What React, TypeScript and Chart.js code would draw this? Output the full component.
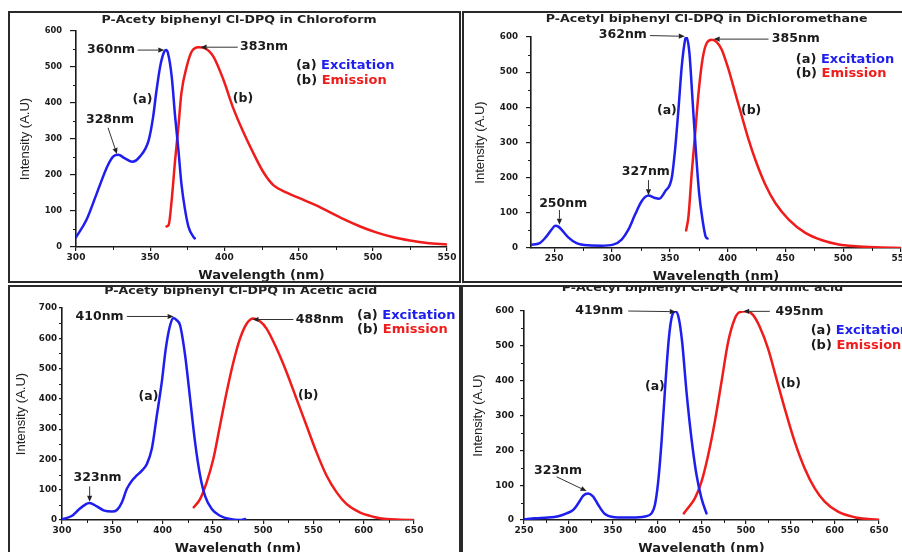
import React, { useEffect, useRef } from 'react';
import { Chart, registerables } from 'chart.js';

Chart.register(...registerables);

const BLUE = 'rgb(30,30,238)';
const RED = 'rgb(240,28,28)';
const INK = '#1b1b1b';
const FONT = "'DejaVu Sans', 'Liberation Sans', Arial, sans-serif";
const YFONT = "'Liberation Sans', Arial, sans-serif";

// ---------- Chloroform ----------
const chlExWl = [300, 307, 314, 321, 325, 328.5, 333, 338, 343, 349, 352, 354, 356.7, 359, 360.7, 362, 364.5, 366.8, 369, 371, 373.5, 375.8, 379, 380];
const chlExI = [27, 75, 149, 223, 251, 256, 246, 237, 251, 297, 362, 427, 501, 538, 547, 538, 473, 362, 270, 177, 103, 56, 29, 24];
const chlEmWl = [361, 362.5, 364.5, 366.8, 369, 371, 374.6, 378, 382.5, 387, 392.6, 399.4, 406, 412.9, 419.6, 426.4, 433, 442, 451, 460, 469, 480, 491.5, 502.8, 514, 525, 536.5, 550];
const chlEmI = [57, 62, 131, 242, 334, 427, 501, 543, 555, 552, 529, 464, 385, 318, 260, 207, 172, 151, 135, 119, 101, 78, 57, 40, 27, 18, 11, 7];
const chlXTicks = [300, 350, 400, 450, 500, 550];
const chlYTicks = [0, 100, 200, 300, 400, 500, 600];

// ---------- Dichloromethane ----------
const dcmExWl = [230, 237.6, 243.4, 247.7, 251, 254, 256.4, 262, 269.4, 279.5, 291, 301, 308.4, 314.2, 320, 325.7, 331.5, 337.3, 340.8, 346, 351.7, 354.6, 357.5, 360.4, 363.3, 364.5, 367, 369.7, 372.5, 375.4, 378.3, 381.2, 382.7];
const dcmExI = [9.5, 14, 33, 52, 63, 60, 52, 31, 14, 7.6, 6.6, 9.5, 24, 52, 95, 133, 149, 142, 140, 161, 199, 280, 393, 517, 592, 600, 555, 422, 280, 156, 81, 31, 27];
const dcmEmWl = [364.2, 366.2, 369, 372, 374.9, 378.3, 382, 386.4, 390.8, 395, 400.9, 406.6, 412.4, 418.2, 424, 432.7, 441.3, 452.9, 467.3, 481.8, 496.2, 510.7, 528, 549.7];
const dcmEmI = [50, 90, 213, 327, 441, 536, 583, 592, 585, 564, 507, 441, 374, 308, 251, 180, 128, 81, 43, 22, 10, 5, 2, 0];
const dcmXTicks = [250, 300, 350, 400, 450, 500, 550];
const dcmYTicks = [0, 100, 200, 300, 400, 500, 600];

// ---------- Acetic acid ----------
const aceExWl = [300, 303, 310, 316.5, 323.2, 327, 334.7, 341.3, 349.6, 354.6, 359.5, 364.5, 369.5, 374.4, 379.4, 384.4, 389.3, 394.3, 399.2, 403.2, 407.5, 411, 414, 417.4, 422.4, 427.4, 432.3, 437.3, 442.2, 448.9, 457.1, 467, 477, 482];
const aceExI = [3, 5, 14, 34, 51, 56, 45, 32, 28, 33, 58, 103, 130, 147, 163, 185, 235, 345, 455, 566, 643, 667, 660, 643, 544, 400, 257, 147, 80, 36, 14, 3, 0, 3];
const aceEmWl = [431, 437.3, 443.9, 450.5, 457.1, 463.7, 470.4, 477, 483.6, 490.2, 496.8, 503.4, 513.4, 523.3, 533.2, 543.1, 553, 563, 572.9, 582.8, 596, 609.3, 622.5, 635.8, 650];
const aceEmI = [42, 69, 125, 202, 312, 422, 521, 599, 648, 665, 656, 632, 566, 488, 400, 312, 224, 147, 92, 53, 25, 11, 3, 1, 0];
const aceXTicks = [300, 350, 400, 450, 500, 550, 600, 650];
const aceYTicks = [0, 100, 200, 300, 400, 500, 600, 700];

// ---------- Formic acid ----------
const forExWl = [250, 262.4, 277.4, 288.6, 298, 305.5, 311.2, 316.8, 322.4, 328, 333.7, 341.2, 352.4, 371.2, 386.2, 393.7, 397.5, 401.2, 405, 408.7, 413.2, 417, 420.7, 424.5, 428.2, 433.1, 438.7, 444.4, 450, 455.6];
const forExI = [2, 5, 7, 11, 19, 29, 48, 70, 76, 67, 43, 17, 8, 7, 10, 19, 43, 110, 225, 368, 521, 588, 599, 578, 511, 368, 234, 129, 62, 19];
const forEmWl = [430.1, 435, 442.5, 450, 457.5, 465, 472.5, 480, 487.5, 493.2, 500.7, 508.2, 515.7, 525, 534.4, 543.8, 555, 566.3, 577.6, 588.8, 603.8, 622.6, 637.6, 650];
const forEmI = [19, 35, 62, 110, 186, 282, 396, 511, 578, 597, 599, 588, 554, 492, 406, 320, 225, 148, 91, 53, 24, 8, 3, 1];
const forXTicks = [250, 300, 350, 400, 450, 500, 550, 600, 650];
const forYTicks = [0, 100, 200, 300, 400, 500, 600];

type Note = { text: string; x: number; y: number; align: 'left' | 'right' | 'center'; arrow?: number[] };

// annotations anchored in data coordinates (wavelength, intensity)
const chlNotes: Note[] = [
  { text: '360nm', x: 339.8, y: 547, align: 'right', arrow: [341.5, 547, 359.5, 547] },
  { text: '383nm', x: 410.5, y: 555, align: 'left', arrow: [409, 555, 384, 555] },
  { text: '328nm', x: 322.9, y: 353, align: 'center', arrow: [321.6, 331, 327.6, 258] },
  { text: '(a)', x: 344.8, y: 408, align: 'center' },
  { text: '(b)', x: 412.5, y: 411, align: 'center' },
];
const dcmNotes: Note[] = [
  { text: '362nm', x: 330.2, y: 606, align: 'right', arrow: [333, 604, 363, 602] },
  { text: '385nm', x: 438.3, y: 594, align: 'left', arrow: [435.4, 594, 388, 594] },
  { text: '327nm', x: 329.3, y: 217, align: 'center', arrow: [331.6, 193, 331.6, 150] },
  { text: '250nm', x: 257.8, y: 127, align: 'center', arrow: [254.6, 108, 254.6, 66] },
  { text: '(a)', x: 347.5, y: 390, align: 'center' },
  { text: '(b)', x: 420.4, y: 390, align: 'center' },
];
const aceNotes: Note[] = [
  { text: '410nm', x: 361.2, y: 672, align: 'right', arrow: [364.5, 672, 411, 672] },
  { text: '488nm', x: 532.5, y: 662, align: 'left', arrow: [530, 662, 489.5, 662] },
  { text: '323nm', x: 335.4, y: 138, align: 'center', arrow: [327.5, 111, 327.5, 60] },
  { text: '(a)', x: 386, y: 406, align: 'center' },
  { text: '(b)', x: 544.8, y: 409, align: 'center' },
];
const forNotes: Note[] = [
  { text: '419nm', x: 361.8, y: 602, align: 'right', arrow: [367.4, 600, 421, 598] },
  { text: '495nm', x: 533.3, y: 599, align: 'left', arrow: [527, 599, 497, 599] },
  { text: '323nm', x: 288.3, y: 140, align: 'center', arrow: [286.8, 124, 320.5, 83] },
  { text: '(a)', x: 397.5, y: 382, align: 'center' },
  { text: '(b)', x: 550.6, y: 392, align: 'center' },
];

type Panel = {
  title: string;
  titlePos: number[];
  frame: { left: number; top: number; width: number; height: number };
  canvas: { left: number; top: number; width: number; height: number };
  area: { left: number; right: number; top: number; bottom: number };
  xMin: number; xMax: number; xTicks: number[];
  yMax: number; yTicks: number[];
  exWl: number[]; exI: number[]; emWl: number[]; emI: number[];
  yTickLen: number; yTickPad: number; yFont: number;
  yTitleCenter: number; xTitlePad: number;
  notes: Note[];
  legend: number[];
};

const panels: Panel[] = [
  {
    title: 'P-Acety biphenyl Cl-DPQ in Chloroform', titlePos: [239, 20],
    frame: { left: 8, top: 11, width: 453, height: 272 },
    canvas: { left: 11, top: 14, width: 447, height: 267 },
    area: { left: 76, right: 447, top: 31, bottom: 247 },
    xMin: 300, xMax: 550, xTicks: chlXTicks, yMax: 600, yTicks: chlYTicks,
    exWl: chlExWl, exI: chlExI, emWl: chlEmWl, emI: chlEmI,
    yTickLen: 6, yTickPad: 8, yFont: 8.3, yTitleCenter: 25, xTitlePad: -1.5,
    notes: chlNotes, legend: [448.2, 503, 461],
  },
  {
    title: 'P-Acetyl biphenyl Cl-DPQ in Dichloromethane', titlePos: [706.7, 19],
    frame: { left: 462, top: 11, width: 460, height: 272 },
    canvas: { left: 465, top: 14, width: 437, height: 267 },
    area: { left: 531, right: 901, top: 37, bottom: 248 },
    xMin: 230, xMax: 550, xTicks: dcmXTicks, yMax: 600, yTicks: dcmYTicks,
    exWl: dcmExWl, exI: dcmExI, emWl: dcmEmWl, emI: dcmEmI,
    yTickLen: 5, yTickPad: 8, yFont: 8.7, yTitleCenter: 480, xTitlePad: -2.5,
    notes: dcmNotes, legend: [459, 535, 495],
  },
  {
    title: 'P-Acety biphenyl Cl-DPQ in Acetic acid', titlePos: [240.8, 291.3],
    frame: { left: 8, top: 285, width: 453, height: 290 },
    canvas: { left: 11, top: 287, width: 447, height: 265 },
    area: { left: 62, right: 414, top: 308, bottom: 520 },
    xMin: 300, xMax: 650, xTicks: aceXTicks, yMax: 700, yTicks: aceYTicks,
    exWl: aceExWl, exI: aceExI, emWl: aceEmWl, emI: aceEmI,
    yTickLen: 3, yTickPad: 2, yFont: 8.7, yTitleCenter: 21, xTitlePad: -3.2,
    notes: aceNotes, legend: [593.4, 676, 628],
  },
  {
    title: 'P-Acetyl biphenyl Cl-DPQ in Formic acid', titlePos: [702.5, 288.7],
    frame: { left: 461, top: 285, width: 460, height: 290 },
    canvas: { left: 464, top: 287, width: 438, height: 265 },
    area: { left: 524, right: 879, top: 311, bottom: 520 },
    xMin: 250, xMax: 650, xTicks: forXTicks, yMax: 600, yTicks: forYTicks,
    exWl: forExWl, exI: forExI, emWl: forEmWl, emI: forEmI,
    yTickLen: 4, yTickPad: 6, yFont: 9, yTitleCenter: 478, xTitlePad: -3.2,
    notes: forNotes, legend: [573, 543, 502],
  },
];

function drawText(ctx: CanvasRenderingContext2D, text: string, x: number, y: number, size: number, color: string, align: CanvasTextAlign, sx = 1) {
  ctx.save();
  ctx.font = `bold ${size}px ${FONT}`;
  ctx.fillStyle = color;
  ctx.textBaseline = 'middle';
  ctx.textAlign = align;
  ctx.translate(x, y);
  ctx.scale(sx, 1);
  ctx.fillText(text, 0, 0);
  ctx.restore();
}

function drawArrow(ctx: CanvasRenderingContext2D, x1: number, y1: number, x2: number, y2: number) {
  const ang = Math.atan2(y2 - y1, x2 - x1);
  const head = 6;
  const hw = 2.6;
  const bx = x2 - head * Math.cos(ang);
  const by = y2 - head * Math.sin(ang);
  ctx.save();
  ctx.strokeStyle = '#333';
  ctx.fillStyle = '#222';
  ctx.lineWidth = 1;
  ctx.beginPath();
  ctx.moveTo(x1, y1);
  ctx.lineTo(bx, by);
  ctx.stroke();
  ctx.beginPath();
  ctx.moveTo(x2, y2);
  ctx.lineTo(bx + hw * Math.sin(ang), by - hw * Math.cos(ang));
  ctx.lineTo(bx - hw * Math.sin(ang), by + hw * Math.cos(ang));
  ctx.closePath();
  ctx.fill();
  ctx.restore();
}

function midpoints(arr: number[]) {
  return arr.slice(0, -1).map((v, i) => (v + arr[i + 1]) / 2);
}

function makeNotesPlugin(p: Panel) {
  return {
    id: 'spectrumNotes',
    afterDraw(chart: any) {
      const ctx: CanvasRenderingContext2D = chart.ctx;
      const xs = chart.scales.x;
      const ys = chart.scales.y;
      const a = chart.chartArea;
      const ox = p.canvas.left;
      const oy = p.canvas.top;
      ctx.save();
      // minor ticks
      ctx.strokeStyle = INK;
      ctx.lineWidth = 1;
      const xMinor = midpoints(p.xTicks).concat([p.xTicks[p.xTicks.length - 1] + 25]);
      for (const v of xMinor) {
        if (v < p.xMin || v > p.xMax) continue;
        const px = Math.round(xs.getPixelForValue(v)) + 0.5;
        ctx.beginPath();
        ctx.moveTo(px, a.bottom);
        ctx.lineTo(px, a.bottom + 3);
        ctx.stroke();
      }
      for (const v of midpoints(p.yTicks)) {
        const py = Math.round(ys.getPixelForValue(v)) + 0.5;
        ctx.beginPath();
        ctx.moveTo(a.left, py);
        ctx.lineTo(a.left - 3, py);
        ctx.stroke();
      }
      // title
      drawText(ctx, p.title, p.titlePos[0] - ox, p.titlePos[1] - oy, 10.5, '#222', 'center', 1.2);
      // annotations
      for (const n of p.notes) {
        if (n.arrow) {
          drawArrow(ctx, xs.getPixelForValue(n.arrow[0]), ys.getPixelForValue(n.arrow[1]), xs.getPixelForValue(n.arrow[2]), ys.getPixelForValue(n.arrow[3]));
        }
        drawText(ctx, n.text, xs.getPixelForValue(n.x), ys.getPixelForValue(n.y), 12.5, INK, n.align);
      }
      // legend
      const lx = xs.getPixelForValue(p.legend[0]);
      const rows = [
        { tag: '(a) ', name: 'Excitation', color: BLUE, y: p.legend[1] },
        { tag: '(b) ', name: 'Emission', color: RED, y: p.legend[2] },
      ];
      for (const r of rows) {
        const ly = ys.getPixelForValue(r.y);
        ctx.font = `bold 13px ${FONT}`;
        const w = ctx.measureText(r.tag).width;
        drawText(ctx, r.tag, lx, ly, 13, INK, 'left');
        drawText(ctx, r.name, lx + w, ly, 13, r.color, 'left');
      }
      ctx.restore();
    },
  };
}

function SpectrumPanel({ p }: { p: Panel }) {
  const ref = useRef<HTMLCanvasElement | null>(null);
  useEffect(() => {
    const canvas = ref.current;
    if (!canvas) return;
    const cv = p.canvas;
    const yW = p.area.left - cv.left;
    const padRight = cv.left + cv.width - p.area.right;
    const padTop = p.area.top - cv.top;
    const xH = cv.top + cv.height - p.area.bottom;
    const chart = new Chart(canvas, {
      type: 'line',
      data: {
        datasets: [
          {
            label: 'Excitation',
            data: p.exWl.map((x, i) => ({ x, y: p.exI[i] })),
            borderColor: BLUE,
            backgroundColor: BLUE,
            borderWidth: 2.5,
            pointRadius: 0,
            tension: 0.4,
            cubicInterpolationMode: 'monotone',
            fill: false,
            borderCapStyle: 'round',
            borderJoinStyle: 'round',
          },
          {
            label: 'Emission',
            data: p.emWl.map((x, i) => ({ x, y: p.emI[i] })),
            borderColor: RED,
            backgroundColor: RED,
            borderWidth: 2.5,
            pointRadius: 0,
            tension: 0.4,
            cubicInterpolationMode: 'monotone',
            fill: false,
            borderCapStyle: 'round',
            borderJoinStyle: 'round',
          },
        ],
      },
      options: {
        responsive: false,
        animation: false,
        devicePixelRatio: 1,
        events: [],
        layout: { autoPadding: false, padding: { left: 0, right: padRight, top: padTop, bottom: 0 } },
        plugins: { legend: { display: false }, tooltip: { enabled: false }, title: { display: false } },
        scales: {
          x: {
            type: 'linear',
            min: p.xMin,
            max: p.xMax,
            afterBuildTicks: (s: any) => { s.ticks = p.xTicks.map((v) => ({ value: v })); },
            afterFit: (s: any) => { s.height = xH; s.paddingLeft = 0; s.paddingRight = 0; },
            ticks: { font: { family: FONT, size: 9, weight: 'bold', lineHeight: 1 }, color: INK, padding: 2.5, maxRotation: 0, autoSkip: false },
            grid: { drawOnChartArea: false, drawTicks: true, tickLength: 4, color: INK, lineWidth: 1.2 },
            border: { display: true, color: INK, width: 1.6 },
            title: { display: true, text: 'Wavelength (nm)', color: INK, font: { family: FONT, size: 13, weight: 'bold', lineHeight: 1 }, padding: { top: 0, bottom: p.xTitlePad } },
          },
          y: {
            type: 'linear',
            min: 0,
            max: p.yMax,
            afterBuildTicks: (s: any) => { s.ticks = p.yTicks.map((v) => ({ value: v })); },
            afterFit: (s: any) => { s.width = yW; s.paddingTop = 0; s.paddingBottom = 0; },
            ticks: { font: { family: FONT, size: p.yFont, weight: 'bold', lineHeight: 1 }, color: INK, padding: p.yTickPad },
            grid: { drawOnChartArea: false, drawTicks: true, tickLength: p.yTickLen, color: INK, lineWidth: 1.2 },
            border: { display: true, color: INK, width: 1.6 },
            title: { display: true, text: 'Intensity (A.U)', color: '#222', font: { family: YFONT, size: 13, weight: 'normal', lineHeight: 1 }, padding: { top: p.yTitleCenter - cv.left - 6.5, bottom: 0 } },
          },
        },
      },
      plugins: [makeNotesPlugin(p)],
    } as any);
    return () => chart.destroy();
  }, [p]);
  return (
    <canvas
      ref={ref}
      width={p.canvas.width}
      height={p.canvas.height}
      style={{ position: 'absolute', left: p.canvas.left, top: p.canvas.top, width: p.canvas.width, height: p.canvas.height }}
    />
  );
}

export default function App() {
  return (
    <div style={{ position: 'fixed', left: 0, top: 0, width: 902, height: 552, overflow: 'hidden', background: '#fff' }}>
      {panels.map((p, i) => (
        <React.Fragment key={i}>
          <div style={{ position: 'absolute', boxSizing: 'border-box', border: '2px solid #2a2a2a', left: p.frame.left, top: p.frame.top, width: p.frame.width, height: p.frame.height }} />
          <SpectrumPanel p={p} />
        </React.Fragment>
      ))}
    </div>
  );
}
